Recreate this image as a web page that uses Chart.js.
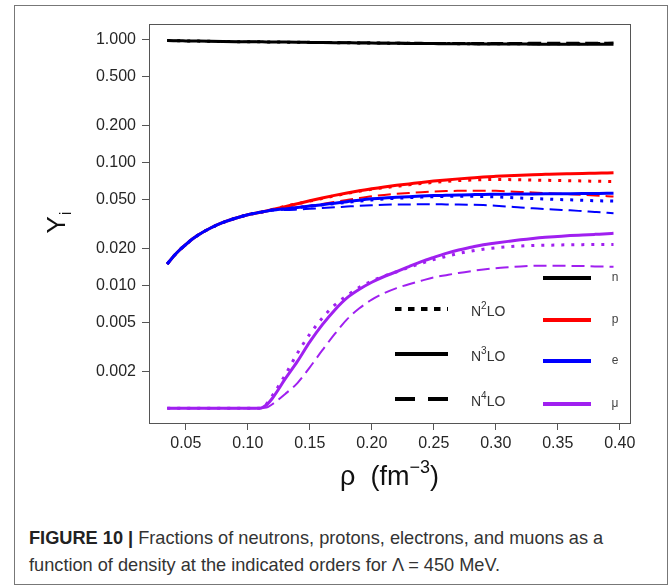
<!DOCTYPE html>
<html>
<head>
<meta charset="utf-8">
<script src="https://cdn.jsdelivr.net/npm/chart.js@4.4.1/dist/chart.umd.min.js"></script>
<style>
  html, body { margin: 0; padding: 0; background: #fff; }
  body { width: 670px; height: 586px; position: relative; overflow: hidden;
         font-family: "Liberation Sans", Arial, sans-serif; }
  #frame { position: absolute; left: 14px; top: 5px; width: 654px; height: 580px;
           border: 1px solid #777; box-sizing: border-box; }
  #plot { position: absolute; left: 0; top: 0; width: 670px; height: 500px; }
  #caption { position: absolute; left: 29px; top: 525px; font-size: 18.2px; line-height: 27px;
             color: #333; white-space: nowrap; }
  #caption b { color: #222; }
</style>
</head>
<body>
<div id="frame"></div>
<div id="plot"><canvas id="chart" width="670" height="500"></canvas></div>
<div id="caption"><b>FIGURE 10 |</b> Fractions of neutrons, protons, electrons, and muons as a<br>function of density at the indicated orders for Λ = 450 MeV.</div>

<script>
// density grid (fm^-3)
const rho = [0.035, 0.04, 0.045, 0.05, 0.055, 0.06, 0.07, 0.08, 0.09, 0.10, 0.11, 0.115, 0.12,
  0.13, 0.14, 0.15, 0.16, 0.17, 0.18, 0.19, 0.20, 0.21, 0.22, 0.23, 0.24, 0.25, 0.26, 0.27,
  0.28, 0.29, 0.30, 0.31, 0.32, 0.33, 0.34, 0.35, 0.36, 0.37, 0.38, 0.39, 0.395];

// neutrons
const n2 = [0.9851, 0.9828, 0.9806, 0.9785, 0.9763, 0.9743, 0.9707, 0.9675, 0.9648, 0.9624, 0.9607, 0.9597, 0.9585,
  0.9560, 0.9538, 0.9515, 0.9490, 0.9465, 0.9440, 0.9416, 0.9395, 0.9376, 0.9359, 0.9342, 0.9326, 0.9311, 0.9298, 0.9287,
  0.9280, 0.9275, 0.9273, 0.9274, 0.9277, 0.9280, 0.9283, 0.9287, 0.9289, 0.9292, 0.9296, 0.9299, 0.9300];
const n3 = [0.9851, 0.9828, 0.9806, 0.9785, 0.9763, 0.9743, 0.9707, 0.9675, 0.9648, 0.9624, 0.9607, 0.9597, 0.9586,
  0.9563, 0.9538, 0.9512, 0.9486, 0.9460, 0.9435, 0.9411, 0.9388, 0.9367, 0.9348, 0.9330, 0.9311, 0.9294, 0.9278, 0.9264,
  0.9251, 0.9238, 0.9228, 0.9219, 0.9211, 0.9204, 0.9199, 0.9194, 0.9190, 0.9186, 0.9182, 0.9178, 0.9176];
const n4 = [0.9851, 0.9828, 0.9806, 0.9785, 0.9763, 0.9743, 0.9707, 0.9675, 0.9648, 0.9624, 0.9607, 0.9598, 0.9589,
  0.9577, 0.9568, 0.9555, 0.9540, 0.9522, 0.9504, 0.9486, 0.9469, 0.9455, 0.9444, 0.9435, 0.9427, 0.9420, 0.9415, 0.9412,
  0.9410, 0.9410, 0.9412, 0.9417, 0.9424, 0.9430, 0.9436, 0.9442, 0.9448, 0.9454, 0.9461, 0.9468, 0.9471];

// protons
const p2 = [0.0149, 0.0172, 0.0194, 0.0215, 0.0237, 0.0257, 0.0293, 0.0325, 0.0352, 0.0376, 0.0393, 0.0403, 0.0415,
  0.0440, 0.0462, 0.0485, 0.0510, 0.0535, 0.0560, 0.0584, 0.0605, 0.0624, 0.0641, 0.0658, 0.0674, 0.0689, 0.0702, 0.0713,
  0.0720, 0.0725, 0.0727, 0.0726, 0.0723, 0.0720, 0.0717, 0.0713, 0.0711, 0.0708, 0.0704, 0.0701, 0.0700];
const p3 = [0.0149, 0.0172, 0.0194, 0.0215, 0.0237, 0.0257, 0.0293, 0.0325, 0.0352, 0.0376, 0.0393, 0.0403, 0.0414,
  0.0437, 0.0462, 0.0488, 0.0514, 0.0540, 0.0565, 0.0589, 0.0612, 0.0633, 0.0652, 0.0670, 0.0689, 0.0706, 0.0722, 0.0736,
  0.0749, 0.0762, 0.0772, 0.0781, 0.0789, 0.0796, 0.0801, 0.0806, 0.0810, 0.0814, 0.0818, 0.0822, 0.0824];
const p4 = [0.0149, 0.0172, 0.0194, 0.0215, 0.0237, 0.0257, 0.0293, 0.0325, 0.0352, 0.0376, 0.0393, 0.0402, 0.0411,
  0.0423, 0.0432, 0.0445, 0.0460, 0.0478, 0.0496, 0.0514, 0.0531, 0.0545, 0.0556, 0.0565, 0.0573, 0.0580, 0.0585, 0.0588,
  0.0590, 0.0590, 0.0588, 0.0583, 0.0576, 0.0570, 0.0564, 0.0558, 0.0552, 0.0546, 0.0539, 0.0532, 0.0529];

// electrons
const e2 = [0.0149, 0.0172, 0.0194, 0.0215, 0.0237, 0.0257, 0.0293, 0.0325, 0.0352, 0.0376, 0.0393, 0.0402, 0.0410,
  0.0419, 0.0430, 0.0441, 0.0452, 0.0463, 0.0474, 0.0486, 0.0496, 0.0505, 0.0512, 0.0518, 0.0523, 0.0527, 0.0530, 0.0532,
  0.0531, 0.0528, 0.0525, 0.0520, 0.0514, 0.0509, 0.0505, 0.0500, 0.0497, 0.0493, 0.0489, 0.0486, 0.0485];
const e3 = [0.0149, 0.0172, 0.0194, 0.0215, 0.0237, 0.0257, 0.0293, 0.0325, 0.0352, 0.0376, 0.0393, 0.0402, 0.0410,
  0.0419, 0.0430, 0.0442, 0.0454, 0.0467, 0.0480, 0.0494, 0.0506, 0.0515, 0.0521, 0.0527, 0.0533, 0.0538, 0.0541, 0.0544,
  0.0547, 0.0550, 0.0551, 0.0552, 0.0554, 0.0555, 0.0556, 0.0557, 0.0558, 0.0559, 0.0560, 0.0561, 0.0561];
const e4 = [0.0149, 0.0172, 0.0194, 0.0215, 0.0237, 0.0257, 0.0293, 0.0325, 0.0352, 0.0376, 0.0393, 0.0401, 0.0409,
  0.0410, 0.0414, 0.0420, 0.0426, 0.0432, 0.0438, 0.0444, 0.0449, 0.0453, 0.0455, 0.0456, 0.0457, 0.0457, 0.0456, 0.0455,
  0.0453, 0.0450, 0.0445, 0.0438, 0.0430, 0.0424, 0.0418, 0.0413, 0.0408, 0.0402, 0.0396, 0.0390, 0.0387];

// muons (0.001 = below threshold)
const mu2 = [0.001, 0.001, 0.001, 0.001, 0.001, 0.001, 0.001, 0.001, 0.001, 0.001, 0.001, 0.00108, 0.00127,
  0.00185, 0.00280, 0.00400, 0.00540, 0.00690, 0.00825, 0.00965, 0.01085, 0.0119, 0.0129, 0.0140, 0.0151, 0.0162, 0.0172, 0.0182,
  0.0190, 0.0197, 0.0202, 0.0206, 0.0209, 0.0211, 0.0212, 0.0213, 0.0214, 0.02145, 0.0215, 0.0215, 0.0215];
const mu3 = [0.001, 0.001, 0.001, 0.001, 0.001, 0.001, 0.001, 0.001, 0.001, 0.001, 0.001, 0.00106, 0.00121,
  0.00172, 0.00240, 0.00346, 0.00476, 0.00628, 0.00790, 0.00929, 0.0106, 0.0118, 0.0129, 0.0142, 0.0156, 0.0169, 0.0182, 0.0194,
  0.0204, 0.0214, 0.0221, 0.0228, 0.0235, 0.0241, 0.0246, 0.0250, 0.0254, 0.0257, 0.0260, 0.0263, 0.0265];
const mu4 = [0.001, 0.001, 0.001, 0.001, 0.001, 0.001, 0.001, 0.001, 0.001, 0.001, 0.001, 0.00101, 0.00108,
  0.00130, 0.00160, 0.00215, 0.00295, 0.00400, 0.00528, 0.00650, 0.00764, 0.00863, 0.00950, 0.0102, 0.0109, 0.0116, 0.0121, 0.0126,
  0.01305, 0.01345, 0.0138, 0.01405, 0.01425, 0.0144, 0.01445, 0.01445, 0.0144, 0.01435, 0.01425, 0.0142, 0.01415];

const xTicks = [0.05, 0.10, 0.15, 0.20, 0.25, 0.30, 0.35, 0.40];
const yTicks = [0.002, 0.005, 0.010, 0.020, 0.050, 0.100, 0.200, 0.500, 1.000];

const species = ['n', 'p', 'e', 'μ'];
const speciesColors = ['#000000', '#ff0000', '#0000ff', '#a020f0'];
const orderSup = ['2', '3', '4'];   // N^k LO

// line style per order: dotted, solid, dashed
const orderStyle = [
  { dash: [3, 7], width: 3 },
  { dash: [], width: 3 },
  { dash: [13, 6], width: 2 }
];

// stacking: electrons above protons where they overlap
const speciesLayer = [1, 3, 0, 2];

const series = [
  [n2, p2, e2, mu2],
  [n3, p3, e3, mu3],
  [n4, p4, e4, mu4]
];

const datasets = [];
series.forEach((set, k) => {
  set.forEach((vals, s) => {
    datasets.push({
      label: species[s] + ' N' + orderSup[k] + 'LO',
      data: rho.map((r, i) => ({ x: r, y: vals[i] })),
      order: speciesLayer[s],
      borderColor: speciesColors[s],
      borderWidth: orderStyle[k].width,
      borderDash: orderStyle[k].dash,
      borderCapStyle: 'butt',
      pointRadius: 0,
      fill: false,
      cubicInterpolationMode: 'monotone'
    });
  });
});

const FONT = '"Liberation Sans", Arial, sans-serif';

// box, axis titles and the two-column key
const decor = {
  id: 'decor',
  afterDraw(chart) {
    const { ctx, chartArea: a } = chart;
    ctx.save();
    ctx.strokeStyle = '#555';
    ctx.lineWidth = 1;
    ctx.setLineDash([]);
    ctx.strokeRect(a.left + 0.5, a.top + 0.5, a.right - a.left, a.bottom - a.top);

    // y title: Y_i
    ctx.fillStyle = '#111';
    ctx.save();
    ctx.translate(65, 223);
    ctx.rotate(-Math.PI / 2);
    ctx.textBaseline = 'alphabetic';
    ctx.font = '26px ' + FONT;
    const wY = ctx.measureText('Y').width;
    ctx.font = '17px ' + FONT;
    const wi = ctx.measureText('i').width;
    const y0 = -(wY + wi) / 2;
    ctx.font = '26px ' + FONT;
    ctx.textAlign = 'left';
    ctx.fillText('Y', y0, 0);
    ctx.font = '17px ' + FONT;
    ctx.fillText('i', y0 + wY + 1, 6);
    ctx.restore();

    // x title: rho (fm^-3)
    const parts = [
      { t: 'ρ  (fm', f: '27px ', dy: 0 },
      { t: '−3', f: '18px ', dy: -12 },
      { t: ')', f: '27px ', dy: 0 }
    ];
    let total = 0;
    parts.forEach(p => { ctx.font = p.f + FONT; p.w = ctx.measureText(p.t).width; total += p.w; });
    let x = (a.left + a.right) / 2 - total / 2;
    ctx.textAlign = 'left';
    ctx.textBaseline = 'alphabetic';
    parts.forEach(p => { ctx.font = p.f + FONT; ctx.fillText(p.t, x, 485 + p.dy); x += p.w; });

    // key: orders
    ctx.strokeStyle = '#000';
    ctx.lineWidth = 4;
    const keyDash = [[6.5, 6.5], [], [20, 13]];
    const orderRows = [285, 330, 375];
    orderRows.forEach((dy, k) => {
      const y = a.top + dy;
      ctx.setLineDash(keyDash[k]);
      ctx.beginPath();
      ctx.moveTo(a.left + 246, y);
      ctx.lineTo(a.left + 299, y);
      ctx.stroke();
      ctx.fillStyle = '#333';
      ctx.textBaseline = 'middle';
      ctx.font = '14px ' + FONT;
      let tx = a.left + 322;
      ctx.fillText('N', tx, y + 3);
      tx += ctx.measureText('N').width;
      ctx.font = '10px ' + FONT;
      ctx.fillText(orderSup[k], tx, y - 3);
      tx += ctx.measureText(orderSup[k]).width;
      ctx.font = '14px ' + FONT;
      ctx.fillText('LO', tx, y + 3);
    });

    // key: species
    ctx.setLineDash([]);
    const speciesRows = [254, 296, 337, 380];
    speciesRows.forEach((dy, s) => {
      const y = a.top + dy;
      ctx.strokeStyle = speciesColors[s];
      ctx.beginPath();
      ctx.moveTo(a.left + 394, y);
      ctx.lineTo(a.left + 442, y);
      ctx.stroke();
      ctx.fillStyle = '#444';
      ctx.font = '12px ' + FONT;
      ctx.textAlign = 'center';
      ctx.fillText(species[s], a.left + 466, y);
      ctx.textAlign = 'left';
    });
    ctx.restore();
  }
};

new Chart(document.getElementById('chart'), {
  type: 'line',
  data: { datasets: datasets },
  options: {
    responsive: false,
    animation: false,
    events: [],
    layout: { padding: { top: 24, left: 0, right: 40, bottom: 37 } },
    plugins: { legend: { display: false }, tooltip: { enabled: false } },
    scales: {
      x: {
        type: 'linear',
        min: 0.0203,
        max: 0.4083,
        afterBuildTicks: s => { s.ticks = xTicks.map(v => ({ value: v })); },
        afterFit: s => { s.height = 40; },
        border: { display: false },
        grid: { drawOnChartArea: false, drawTicks: true, tickLength: 7, color: '#555' },
        ticks: {
          padding: 4,
          color: '#262626',
          font: { family: FONT, size: 16 },
          maxRotation: 0,
          callback: v => v.toFixed(2)
        }
      },
      y: {
        type: 'logarithmic',
        min: Math.pow(10, -3.121),
        max: Math.pow(10, 0.128),
        afterBuildTicks: s => { s.ticks = yTicks.map(v => ({ value: v })); },
        afterFit: s => { s.width = 149; },
        border: { display: false },
        grid: { drawOnChartArea: false, drawTicks: true, tickLength: 7, color: '#555' },
        ticks: {
          padding: 6,
          color: '#262626',
          font: { family: FONT, size: 16 },
          callback: v => v.toFixed(3)
        }
      }
    }
  },
  plugins: [decor]
});
</script>
</body>
</html>
